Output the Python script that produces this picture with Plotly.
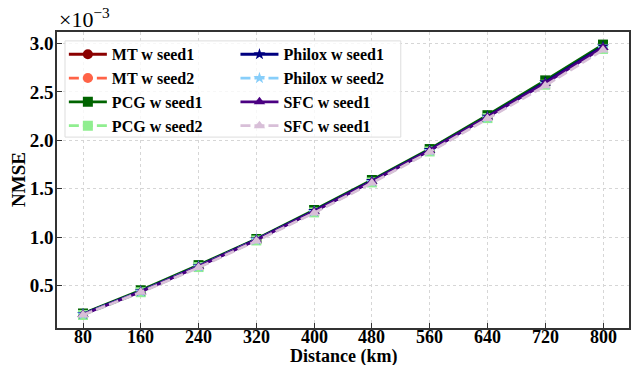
import plotly.graph_objects as go

distance_km = [80, 160, 240, 320, 400, 480, 560, 640, 720, 800]
x_ticks = [80, 160, 240, 320, 400, 480, 560, 640, 720, 800]
y_ticks = [0.5, 1.0, 1.5, 2.0, 2.5, 3.0]

# NMSE values in units of 1e-3
mt_seed1     = [0.205, 0.440, 0.700, 0.975, 1.270, 1.580, 1.900, 2.250, 2.600, 2.970]
mt_seed2     = [0.200, 0.435, 0.695, 0.970, 1.265, 1.575, 1.895, 2.245, 2.595, 2.965]
pcg_seed1    = [0.210, 0.450, 0.710, 0.980, 1.280, 1.590, 1.910, 2.260, 2.620, 2.990]
pcg_seed2    = [0.195, 0.430, 0.690, 0.965, 1.255, 1.565, 1.885, 2.230, 2.575, 2.945]
philox_seed1 = [0.205, 0.440, 0.700, 0.975, 1.270, 1.580, 1.900, 2.245, 2.600, 2.970]
philox_seed2 = [0.200, 0.435, 0.695, 0.970, 1.260, 1.570, 1.890, 2.235, 2.580, 2.950]
sfc_seed1    = [0.200, 0.435, 0.695, 0.970, 1.265, 1.575, 1.895, 2.240, 2.590, 2.960]
sfc_seed1b   = [0.195, 0.430, 0.685, 0.960, 1.250, 1.560, 1.880, 2.225, 2.565, 2.935]

series = [
    ("MT w seed1", mt_seed1, "#8b0000", "solid", "circle", "legend"),
    ("MT w seed2", mt_seed2, "#ff6347", "10px,4px", "circle", "legend"),
    ("PCG w seed1", pcg_seed1, "#006400", "solid", "square", "legend"),
    ("PCG w seed2", pcg_seed2, "#90ee90", "10px,4px", "square", "legend"),
    ("Philox w seed1", philox_seed1, "#000080", "solid", "star", "legend2"),
    ("Philox w seed2", philox_seed2, "#87cefa", "10px,4px", "star", "legend2"),
    ("SFC w seed1", sfc_seed1, "#4b0082", "solid", "triangle-up", "legend2"),
    ("SFC w seed1", sfc_seed1b, "#d8bfd8", "10px,4px", "triangle-up", "legend2"),
]

fig = go.Figure()
for name, vals, color, dash, sym, leg in series:
    fig.add_trace(go.Scatter(
        x=distance_km, y=vals, name=name, mode="lines+markers",
        line=dict(color=color, width=2.8, dash=dash),
        marker=dict(symbol=sym, size=10 if sym != "star" else 9, color=color, line=dict(width=0)),
        legend=leg,
    ))

font_family = "Liberation Serif"
axis_common = dict(
    showline=True, linecolor="#333333", linewidth=1.6, mirror=True,
    ticks="inside", ticklen=5, tickwidth=1.3, tickcolor="#333333",
    showgrid=True, gridcolor="#d6d6d6", griddash="dot", gridwidth=1,
    zeroline=False,
    tickfont=dict(family=font_family, size=19, color="black", weight="bold"),
)

legend_font = dict(family=font_family, size=16, weight="bold")

# x tick labels placed through the x axis scale, slightly closer to the axis than Plotly's default
xtick_annotations = [
    dict(text=f"<b>{v}</b>", xref="x", yref="paper", x=v, y=0,
         xanchor="center", yanchor="middle", yshift=-9, showarrow=False,
         font=dict(family=font_family, size=18, color="black"))
    for v in x_ticks
]

fig.update_layout(
    width=633, height=365,
    margin=dict(l=57, r=2, t=32, b=37),
    plot_bgcolor="white", paper_bgcolor="white",
    font=dict(family=font_family, color="black"),
    xaxis=dict(range=[44, 836], tickvals=x_ticks, showticklabels=False, **axis_common),
    yaxis=dict(range=[0.06, 3.12], tickvals=y_ticks, tickformat=".1f", ticklabelstandoff=-2, **axis_common),
    legend=dict(x=0.012, y=0.982, xanchor="left", yanchor="top",
                bgcolor="rgba(0,0,0,0)", borderwidth=0, itemwidth=38,
                font=legend_font, tracegroupgap=0),
    legend2=dict(x=0.312, y=0.982, xanchor="left", yanchor="top",
                 bgcolor="rgba(0,0,0,0)", borderwidth=0, itemwidth=38,
                 font=legend_font, tracegroupgap=0),
    shapes=[dict(type="rect", xref="paper", yref="paper",
                 x0=0.014, x1=0.601, y0=0.645, y1=0.970,
                 line=dict(color="#dddddd", width=1), fillcolor="rgba(255,255,255,0.8)",
                 layer="above")],
    annotations=xtick_annotations + [
        dict(text="×10<sup>−3</sup>", xref="paper", yref="paper",
             x=0.0, y=1.0, xanchor="left", yanchor="bottom", yshift=-2, showarrow=False,
             font=dict(family=font_family, size=22, color="black")),
        dict(text="<b>Distance (km)</b>", xref="paper", yref="paper",
             x=0.5, y=0, xanchor="center", yanchor="middle", yshift=-28, showarrow=False,
             font=dict(family=font_family, size=18, color="black")),
        dict(text="<b>NMSE</b>", xref="paper", yref="paper", textangle=-90,
             x=0, y=0.5, xanchor="center", yanchor="middle", xshift=-39, showarrow=False,
             font=dict(family=font_family, size=19, color="black")),
    ],
)

fig.write_html("out.html")
